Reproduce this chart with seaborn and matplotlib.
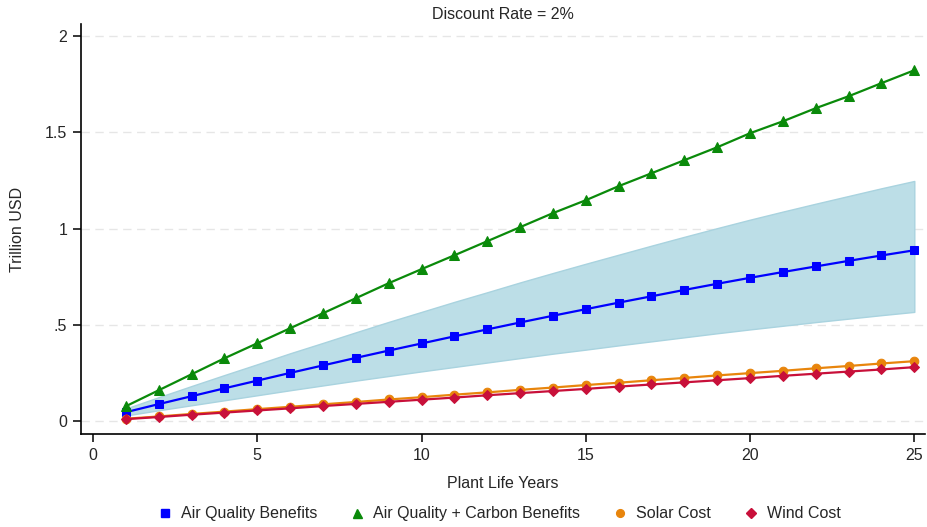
import numpy as np
import pandas as pd
import matplotlib
matplotlib.use("Agg")
import matplotlib.pyplot as plt
from matplotlib.lines import Line2D
import seaborn as sns

sns.set_style("white")
plt.rcParams["font.family"] = ["Liberation Sans", "DejaVu Sans"]

years = list(range(1, 26))

air_quality = [0.047, 0.089, 0.130, 0.171, 0.211, 0.251, 0.290, 0.329, 0.367, 0.404,
               0.441, 0.477, 0.513, 0.548, 0.582, 0.616, 0.649, 0.682, 0.714, 0.745,
               0.775, 0.804, 0.833, 0.861, 0.888]
air_quality_hi = [0.066, 0.125, 0.183, 0.240, 0.296, 0.353, 0.407, 0.462, 0.516, 0.568,
                  0.620, 0.670, 0.721, 0.770, 0.818, 0.865, 0.912, 0.958, 1.003, 1.047,
                  1.089, 1.130, 1.170, 1.210, 1.248]
air_quality_lo = [0.030, 0.057, 0.083, 0.109, 0.135, 0.161, 0.186, 0.211, 0.235, 0.259,
                  0.282, 0.305, 0.328, 0.351, 0.372, 0.394, 0.415, 0.436, 0.457, 0.477,
                  0.496, 0.515, 0.533, 0.551, 0.568]
air_carbon = [0.078, 0.161, 0.244, 0.327, 0.405, 0.483, 0.561, 0.639, 0.717, 0.790,
              0.862, 0.935, 1.008, 1.081, 1.148, 1.221, 1.288, 1.356, 1.423, 1.496,
              1.558, 1.626, 1.688, 1.756, 1.823]
solar_cost = [0.013, 0.025, 0.038, 0.050, 0.063, 0.075, 0.088, 0.100, 0.113, 0.125,
              0.138, 0.150, 0.163, 0.175, 0.188, 0.200, 0.213, 0.225, 0.238, 0.250,
              0.262, 0.275, 0.287, 0.300, 0.312]
wind_cost = [0.011, 0.022, 0.034, 0.045, 0.056, 0.067, 0.079, 0.090, 0.101, 0.112,
             0.123, 0.135, 0.146, 0.157, 0.168, 0.180, 0.191, 0.202, 0.213, 0.224,
             0.236, 0.247, 0.258, 0.269, 0.281]

x_ticks = [0, 5, 10, 15, 20, 25]
y_ticks = [0, 0.5, 1, 1.5, 2]
y_tick_labels = ["0", ".5", "1", "1.5", "2"]

series = [
    ("Air Quality Benefits", air_quality, "#0000ff", "s", 6.0),
    ("Air Quality + Carbon Benefits", air_carbon, "#0a8a0a", "^", 7.2),
    ("Solar Cost", solar_cost, "#e8850c", "o", 6.2),
    ("Wind Cost", wind_cost, "#c8103a", "D", 5.6),
]

fig = plt.figure(figsize=(9.27, 5.27), dpi=100)
ax = fig.add_axes([0.0874, 0.176, 0.9106, 0.778])

# uncertainty band around air quality benefits
ax.fill_between(years, air_quality_lo, air_quality_hi, color="#bcdee7",
                edgecolor="#a9d3df", linewidth=1.0, zorder=1)

draw_order = [1, 0, 2, 3]
for i in draw_order:
    name, vals, color, marker, ms = series[i]
    df = pd.DataFrame({"year": years, "value": vals})
    sns.lineplot(data=df, x="year", y="value", ax=ax, color=color, marker=marker,
                 markersize=ms, markeredgecolor=color, linewidth=1.6, zorder=3 + i)

ax.set_xlim(-0.365, 25.33)
ax.set_ylim(-0.0675, 2.062)
ax.set_xticks(x_ticks)
ax.set_xticklabels([str(t) for t in x_ticks])
ax.set_yticks(y_ticks)
ax.set_yticklabels(y_tick_labels)

for yv in y_ticks:
    ax.axhline(yv, color="#e6e6e6", linewidth=1.0, linestyle=(0, (6, 4)), zorder=0)

for side in ["top", "right"]:
    ax.spines[side].set_visible(False)
for side in ["left", "bottom"]:
    ax.spines[side].set_color("black")
    ax.spines[side].set_linewidth(1.2)

ax.tick_params(axis="both", direction="out", length=6, width=1.1, color="black",
               labelsize=11.5, pad=4, left=True, bottom=True)

ax.set_xlabel("Plant Life Years", fontsize=11.5, labelpad=9)
ax.set_ylabel("Trillion USD", fontsize=11.5, labelpad=14)
ax.set_title("Discount Rate = 2%", fontsize=11.5, pad=4)

handles = [Line2D([], [], linestyle="none", marker=m, color=c, markersize=ms * 0.9)
           for (_, _, c, m, ms) in series]
labels = [s[0] for s in series]
fig.legend(handles, labels, loc="center", bbox_to_anchor=(0.538, 0.025), ncol=4,
           frameon=False, fontsize=11.5, handletextpad=0.5, columnspacing=2.0,
           handlelength=1.0)

fig.savefig("out.png", dpi=100)
